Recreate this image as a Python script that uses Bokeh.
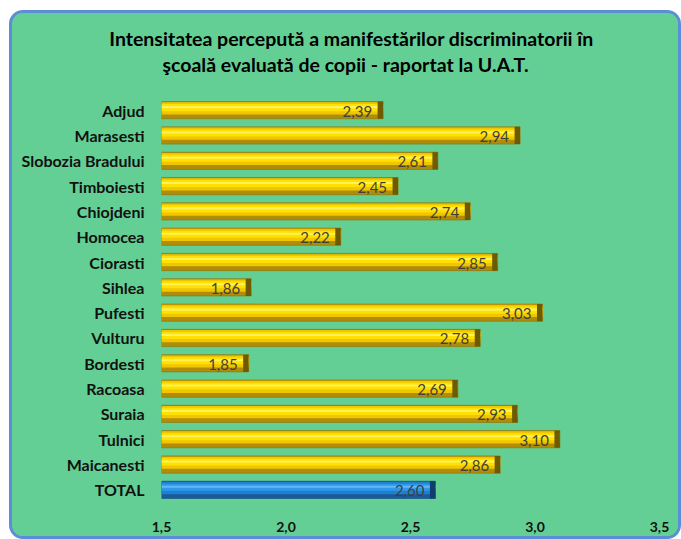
from bokeh.plotting import figure
from bokeh.models import (ColumnDataSource, FactorRange, Range1d, FixedTicker,
                          CustomJSTickFormatter, LinearAxis)
from bokeh.transform import dodge
from bokeh.core.properties import value
from bokeh.embed import file_html
from bokeh.resources import INLINE

title_lines = ["Intensitatea percepută a manifestărilor discriminatorii în",
               "şcoală evaluată de copii - raportat la U.A.T."]
categories = ["Adjud", "Marasesti", "Slobozia Bradului", "Timboiesti", "Chiojdeni",
              "Homocea", "Ciorasti", "Sihlea", "Pufesti", "Vulturu", "Bordesti",
              "Racoasa", "Suraia", "Tulnici", "Maicanesti", "TOTAL"]
values = [2.39, 2.94, 2.61, 2.45, 2.74, 2.22, 2.85, 1.86, 3.03, 2.78, 1.85,
          2.69, 2.93, 3.10, 2.86, 2.60]
x_ticks = [1.5, 2.0, 2.5, 3.0, 3.5]
x_start, x_end = 1.5, 3.5

GREEN = "#64cf94"
W, H = 672, 529

p = figure(width=W, height=H, output_backend="svg", toolbar_location=None,
           y_range=FactorRange(factors=list(reversed(categories))),
           x_range=Range1d(x_start, x_end),
           min_border_left=149, min_border_right=25, min_border_top=84,
           min_border_bottom=40)
p.background_fill_color = GREEN
p.border_fill_color = GREEN
p.outline_line_color = None
p.styles = {"position": "absolute", "left": "9px", "top": "10px", "background": GREEN,
            "border-radius": "14px", "border": "3px solid #5b8dd9", "overflow": "hidden"}

p.xgrid.grid_line_color = None
p.ygrid.grid_line_color = None
for ax in (p.xaxis[0], p.yaxis[0]):
    ax.axis_line_color = None
    ax.major_tick_line_color = None
    ax.minor_tick_line_color = None
    ax.major_label_text_font = "Lato"
    ax.major_label_text_font_style = "bold"
    ax.major_label_text_color = "#111111"
p.yaxis.major_label_text_font_size = "16px"
p.xaxis.major_label_text_font_size = "14px"
p.yaxis.major_label_standoff = 11
p.xaxis.major_label_standoff = 13
p.xaxis.ticker = FixedTicker(ticks=x_ticks)
p.xaxis.formatter = CustomJSTickFormatter(code="return tick.toFixed(1).replace('.', ',');")

# two-line chart title, each line centred on its own anchor (carried by top axes)
title_centers = [2.263, 2.239]   # data-x of each line's centre
title_standoffs = [0, 22]
for i in (1, 0):  # inner line first (closest to the frame)
    t_ax = LinearAxis(ticker=FixedTicker(ticks=[title_centers[i]]),
                      major_label_overrides={title_centers[i]: title_lines[i]})
    t_ax.axis_line_color = None
    t_ax.major_tick_line_color = None
    t_ax.minor_tick_line_color = None
    t_ax.major_tick_out = 0
    t_ax.major_tick_in = 0
    t_ax.major_label_standoff = title_standoffs[i]
    t_ax.major_label_text_font = "Lato"
    t_ax.major_label_text_font_style = "bold"
    t_ax.major_label_text_font_size = "19.5px"
    t_ax.major_label_text_color = "#000000"
    p.add_layout(t_ax, "above")

gold = [c != "TOTAL" for c in categories]
src = ColumnDataSource(dict(
    cat=categories,
    val=values,
    cap=[v - 0.022 for v in values],
    label=[f"{v:.2f}".replace(".", ",") for v in values],
    base=["#b08c0a" if g else "#1b5a98" for g in gold],
    band=["#f0c600" if g else "#1f7fd0" for g in gold],
    bright=["#ffe000" if g else "#2f98ea" for g in gold],
    hi=["#fff25a" if g else "#62b9f6" for g in gold],
    capc=["#6e5a00" if g else "#0f3d6c" for g in gold],
    edge=["#8c7000" if g else "#134a80" for g in gold],
))

p.hbar(y="cat", left=x_start, right="val", height=0.68, source=src,
       fill_color="base", line_color="edge", line_width=0.6)
p.hbar(y=dodge("cat", 0.07, range=p.y_range), left=x_start, right="val", height=0.48,
       source=src, fill_color="band", line_color=None)
p.hbar(y=dodge("cat", 0.10, range=p.y_range), left=x_start, right="val", height=0.28,
       source=src, fill_color="bright", line_color=None)
p.hbar(y=dodge("cat", 0.12, range=p.y_range), left=x_start, right="val", height=0.08,
       source=src, fill_color="hi", line_color=None)
p.hbar(y="cat", left="cap", right="val", height=0.68, source=src,
       fill_color="capc", line_color=None)

p.text(x="val", y="cat", text="label", source=src, x_offset=-11, y_offset=1,
       text_align="right", text_baseline="middle", text_font=value("Lato"),
       text_font_size="15px", text_color="#3f3f3f")

open("out.html", "w").write(file_html(p, INLINE))
